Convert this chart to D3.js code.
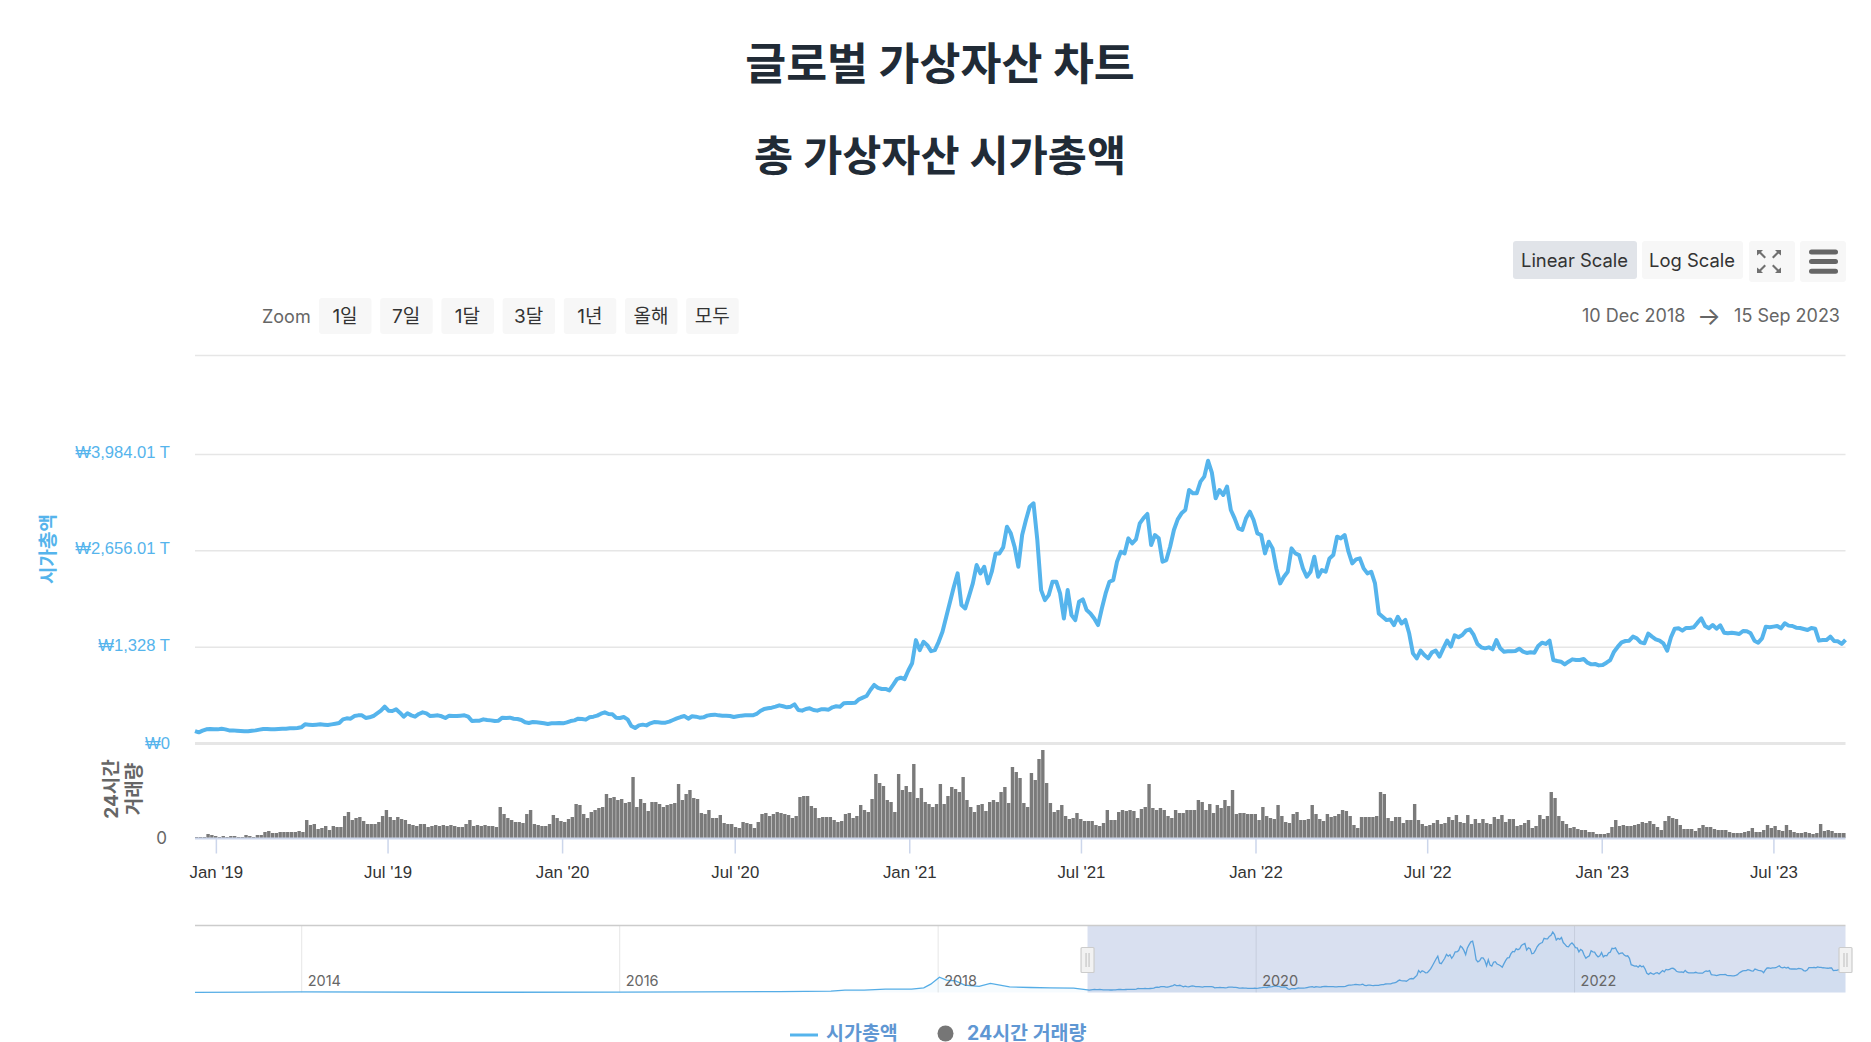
<!DOCTYPE html>
<html>
<head>
<meta charset="utf-8">
<title>글로벌 가상자산 차트</title>
<script src="https://cdn.jsdelivr.net/npm/d3@7"></script>
<style>
html, body { margin:0; padding:0; background:#fff; }
svg { display:block; font-family:Inter,"Noto Sans CJK KR",sans-serif; }
</style>
</head>
<body>
<script>
// 4 day samples starting 10 Dec 2018. market cap in trillion won
var sampleStart = new Date(2018, 11, 10), sampleEnd = new Date(2023, 8, 15), sampleDays = 4;

var capValues = [
165,147,170,188,193,188,188,197,188,174,
174,170,165,161,161,170,174,184,193,193,
188,188,193,197,197,202,202,207,216,257,
253,248,253,257,253,248,257,266,276,326,
340,335,372,381,381,345,354,372,409,446,
501,446,441,464,418,363,409,381,363,400,
423,409,372,377,381,368,345,377,372,372,
377,381,363,303,308,308,326,317,312,303,
308,349,345,349,335,331,317,285,276,289,
285,280,271,262,271,271,276,271,285,303,
312,335,331,322,354,363,377,404,423,400,
395,349,345,358,326,234,207,243,253,243,
271,289,285,280,280,294,317,340,358,372,
335,368,363,349,354,377,386,391,381,377,
377,372,358,368,377,381,381,381,400,441,
469,478,487,501,519,506,492,501,533,455,
446,469,478,455,446,464,464,460,492,506,
501,547,552,552,556,602,625,648,731,800,
760,745,745,725,800,880,900,880,1000,1100,
1418,1280,1395,1349,1266,1280,1395,1533,1740,1947,
2154,2338,1901,1855,2025,2200,2453,2338,2430,2200,
2361,2614,2614,2697,2982,2890,2706,2430,2867,3074,
3258,3304,2798,2108,1970,2039,2223,2223,2062,1717,
2108,1763,1694,1947,1979,1832,1786,1717,1625,1855,
2062,2223,2246,2499,2637,2614,2821,2752,2807,3028,
3100,3157,2729,2867,2821,2499,2522,2706,2936,3083,
3166,3212,3488,3442,3442,3603,3672,3890,3727,3373,
3488,3419,3534,3212,3097,2959,2936,3097,3189,3074,
2890,2867,2614,2775,2683,2407,2200,2292,2361,2683,
2614,2591,2407,2292,2361,2568,2292,2384,2361,2545,
2591,2844,2821,2867,2637,2476,2531,2545,2407,2338,
2361,2200,1786,1740,1694,1703,1625,1740,1648,1696,
1512,1236,1167,1273,1213,1167,1250,1273,1190,1305,
1411,1328,1484,1457,1489,1549,1567,1489,1365,1319,
1305,1319,1291,1420,1305,1259,1264,1264,1268,1300,
1259,1241,1250,1245,1337,1383,1365,1411,1144,1130,
1121,1084,1121,1153,1144,1144,1158,1107,1084,1089,
1070,1075,1107,1144,1259,1328,1388,1406,1411,1466,
1443,1388,1374,1507,1466,1429,1411,1374,1273,1457,
1576,1581,1549,1586,1586,1595,1659,1719,1613,1581,
1627,1576,1622,1521,1512,1521,1512,1503,1544,1540,
1512,1411,1383,1443,1604,1595,1604,1613,1581,1650,
1618,1613,1590,1586,1572,1558,1586,1576,1411,1420,
1420,1466,1406,1402,1365,1420];

// no scale on the volume panel in the picture, so these are relative heights
var volValues = [
1,1,1,4,3,2,1,2,1,2,
2,1,1,3,2,1,3,3,6,7,
5,5,6,6,6,6,6,7,6,18,
13,14,9,10,12,8,12,11,11,22,
26,18,20,21,17,14,14,14,16,22,
28,21,18,21,19,18,14,13,12,14,
14,11,12,13,12,13,12,13,12,11,
11,14,18,12,13,12,13,12,12,11,
31,24,20,18,16,16,15,24,28,14,
13,12,12,14,23,20,17,16,19,21,
34,33,24,20,26,28,30,31,44,40,
41,38,39,35,36,61,31,39,35,27,
36,36,34,31,33,34,35,54,38,44,
48,40,39,25,24,28,20,20,23,15,
14,14,11,10,16,15,14,10,16,24,
25,22,24,26,25,24,23,20,22,41,
42,42,32,30,20,21,21,21,18,16,
17,24,25,20,22,33,28,26,39,64,
55,52,38,36,26,64,48,52,46,74,
40,50,36,34,31,34,54,34,42,51,
49,46,61,38,31,26,33,34,27,36,
38,36,46,51,35,71,66,60,35,31,
65,58,79,88,55,35,26,28,33,22,
19,20,25,19,17,17,17,13,12,15,
28,18,18,26,28,27,28,27,20,29,
31,54,30,28,30,28,22,20,28,25,
25,28,28,28,38,36,28,34,25,33,
30,38,32,48,24,25,25,24,24,24,
18,31,22,20,19,33,22,16,15,24,
26,18,18,19,33,24,19,17,24,21,
22,24,28,27,22,13,10,21,21,21,
21,22,46,44,20,17,21,21,15,18,
18,34,18,14,12,13,15,18,14,15,
21,18,23,16,15,23,14,19,15,19,
15,14,21,19,23,16,19,19,12,13,
15,18,10,12,23,19,22,46,40,22,
17,14,10,11,9,8,8,6,6,4,
4,4,5,11,18,12,13,12,12,13,
14,16,15,17,14,11,8,17,22,20,
19,13,9,9,9,7,10,13,11,11,
9,8,8,8,6,5,5,5,6,7,
10,6,6,8,13,10,12,8,7,13,
8,6,5,5,6,5,4,5,14,7,
8,7,5,5,5,5];

// navigator goes further back than the main chart
var navEarlyDates = ["2013-05-01","2014-01-01","2015-01-01","2016-01-01","2016-07-01","2017-01-01","2017-04-30","2017-06-01","2017-07-15","2017-09-02","2017-11-01","2017-11-29","2017-12-15","2018-01-04","2018-01-20","2018-02-10","2018-03-03","2018-04-05","2018-05-01","2018-06-14","2018-08-01","2018-09-15","2018-11-08"];
var navEarlyValues = [6,40,15,20,40,60,85,150,150,214,214,300,535,980,790,750,470,400,580,360,320,300,280];

var capTicks = [0,1328,2656,3984,5350];
var capTickLabels = ["₩0","₩1,328 T","₩2,656.01 T","₩3,984.01 T",""];
var xTickDates = ["2019-01-01","2019-07-01","2020-01-01","2020-07-01","2021-01-01","2021-07-01","2022-01-01","2022-07-01","2023-01-01","2023-07-01"];
var xTickLabels = ["Jan '19","Jul '19","Jan '20","Jul '20","Jan '21","Jul '21","Jan '22","Jul '22","Jan '23","Jul '23"];
var navYears = [2014,2016,2018,2020,2022];
var zoomButtons = ["1일","7일","1달","3달","1년","올해","모두"];

var parseDay = d3.timeParse("%Y-%m-%d");
var W = 1871, H = 1042;
var plotL = 195, plotR = 1845.5;
var blue = "#55b4ec", grey = "#666666";

var svg = d3.select("body").append("svg").attr("width", W).attr("height", H);

function txt(x, y, s, size, fill, anchor, weight) {
	return svg.append("text").attr("x", x).attr("y", y).attr("dy", "0.36em")
		.attr("text-anchor", anchor || "start")
		.attr("font-size", size).attr("fill", fill)
		.attr("font-weight", weight || 400)
		.text(s);
}

// titles
txt(940, 64, "글로벌 가상자산 차트", 44.5, "#212b36", "middle", 700);
txt(940, 156, "총 가상자산 시가총액", 42.5, "#212b36", "middle", 700);

// top right buttons
function btn(x, y, w, h, fill) {
	return svg.append("rect").attr("x", x).attr("y", y).attr("width", w).attr("height", h)
		.attr("rx", 3).attr("fill", fill);
}
btn(1513, 241, 124, 38, "#e1e4e9");
btn(1642, 241, 101, 38, "#f7f7f7");
btn(1749, 241, 46, 41, "#f7f7f7");
btn(1800, 241, 46, 41, "#f7f7f7");
txt(1574.5, 260, "Linear Scale", 18.4, "#333", "middle");
txt(1692, 260, "Log Scale", 18.4, "#333", "middle");

// fullscreen icon
svg.append("path")
	.attr("d", "M1757 250h6l-2 2 5 5-1.5 1.5-5-5-2.500 2zM1781 250h-6l2 2-5 5 1.500 1.500 5-5 2.500 2zM1757 273h6l-2-2 5-5-1.500-1.500-5 5-2.500-2zM1781 273h-6l2-2-5-5 1.500-1.500 5 5 2.500-2z")
	.attr("fill", "#707070");
// menu icon
d3.range(3).forEach(function(i) {
	svg.append("rect").attr("x", 1809).attr("y", 249.5 + i * 9.6).attr("width", 29).attr("height", 5)
		.attr("rx", 2.5).attr("fill", grey);
});

// range selector
txt(262, 316.5, "Zoom", 18, grey);
zoomButtons.forEach(function(b, i) {
	btn(319 + i * 61.2, 298, 52.5, 36, "#f7f7f7");
	txt(345 + i * 61.2, 316, b, 19, "#333", "middle");
});
txt(1582, 316, "10 Dec 2018", 18, grey);
txt(1709, 316, "→", 25, grey, "middle");
txt(1840, 316, "15 Sep 2023", 18, grey, "end");

// scales
var x = d3.scaleTime().domain([sampleStart, sampleEnd]).range([plotL, plotR]);
var yCap = d3.scaleLinear().domain([0, 3984]).range([743, 454]);
var yVol = d3.scaleLinear().domain([0, 88]).range([838, 750]);

function sampleDate(i) { return d3.timeDay.offset(sampleStart, i * sampleDays); }
var capData = capValues.map(function(v, i) { return { date: sampleDate(i), value: v }; });
var volData = volValues.map(function(v, i) { return { date: sampleDate(i), value: v }; });

// price axis, gridlines come from the tick size
var capAxis = d3.axisLeft(yCap)
	.tickValues(capTicks)
	.tickSize(-(plotR - plotL))
	.tickPadding(25)
	.tickFormat(function(d, i) { return capTickLabels[i]; });
var gCap = svg.append("g").attr("transform", "translate(" + plotL + ",0)").call(capAxis);
gCap.select(".domain").remove();
gCap.selectAll(".tick line").attr("stroke", "#e6e6e6").attr("stroke-width", function(d) { return d === 0 ? 3 : 1.5; });
gCap.selectAll(".tick text").attr("fill", blue).attr("font-size", 16.6).attr("font-family", null)
	.attr("dy", function(d) { return d === 0 ? "0.32em" : "0.22em"; });

txt(0, 0, "시가총액", 19, blue, "middle", 700)
	.attr("transform", "translate(48,549) rotate(-90)");

// volume
var barW = (x(sampleDate(1)) - x(sampleDate(0))) - 0.4;
svg.append("g").selectAll("rect").data(volData).enter().append("rect")
	.attr("x", function(d) { return Math.min(x(d.date), plotR - barW); })
	.attr("y", function(d) { return yVol(d.value); })
	.attr("width", barW)
	.attr("height", function(d) { return 838 - yVol(d.value); })
	.attr("fill", "#7a7a7a");

txt(167, 838, "0", 17, grey, "end");
txt(0, 0, "24시간", 19, grey, "middle", 700).attr("transform", "translate(111,789) rotate(-90)");
txt(0, 0, "거래량", 19, grey, "middle", 700).attr("transform", "translate(134,789) rotate(-90)");

// cap line
var capLine = d3.line()
	.x(function(d) { return x(d.date); })
	.y(function(d) { return yCap(d.value); });
svg.append("path").datum(capData)
	.attr("fill", "none").attr("stroke", blue).attr("stroke-width", 4)
	.attr("stroke-linejoin", "round")
	.attr("d", capLine);

// date axis
var tickDates = xTickDates.map(parseDay);
var xAxis = d3.axisBottom(x)
	.tickValues(tickDates)
	.tickSize(15)
	.tickPadding(13)
	.tickFormat(function(d, i) { return xTickLabels[i]; });
var gX = svg.append("g").attr("transform", "translate(0,838.5)").call(xAxis);
gX.select(".domain").attr("stroke", "#ccd6eb").attr("stroke-width", 2).attr("d", "M" + plotL + ",0H" + plotR);
gX.selectAll(".tick line").attr("stroke", "#ccd6eb").attr("stroke-width", 1.5);
gX.selectAll(".tick text").attr("fill", "#333").attr("font-size", 16.8).attr("font-family", null);

// navigator
var navTop = 926, navBottom = 992.5;
var xNav = d3.scaleTime().domain([parseDay(navEarlyDates[0]), sampleEnd]).range([plotL, plotR]);
var yNav = d3.scaleLinear().domain([0, 3890]).range([navBottom, 932]);
var navData = navEarlyDates.map(function(d, i) { return { date: parseDay(d), value: navEarlyValues[i] }; }).concat(capData);

svg.selectAll(".navgrid").data(navYears).enter().append("line")
	.attr("class", "navgrid")
	.attr("x1", function(y) { return xNav(new Date(y, 0, 1)); })
	.attr("x2", function(y) { return xNav(new Date(y, 0, 1)); })
	.attr("y1", navTop).attr("y2", navBottom)
	.attr("stroke", "#e6e6e6");

var navArea = d3.area()
	.x(function(d) { return xNav(d.date); })
	.y0(navBottom)
	.y1(function(d) { return yNav(d.value); });
svg.append("path").datum(navData).attr("d", navArea).attr("fill", blue).attr("fill-opacity", 0.05);
svg.append("path").datum(navData)
	.attr("d", d3.line().x(function(d) { return xNav(d.date); }).y(function(d) { return yNav(d.value); }))
	.attr("fill", "none").attr("stroke", "#55ade6").attr("stroke-width", 1.3);

// selected window
svg.append("rect")
	.attr("x", xNav(sampleStart)).attr("y", navTop)
	.attr("width", xNav(sampleEnd) - xNav(sampleStart)).attr("height", navBottom - navTop)
	.attr("fill", "#6685c2").attr("fill-opacity", 0.25);

navYears.forEach(function(y) {
	txt(xNav(new Date(y, 0, 1)) + 6, 981, y, 14.5, grey);
});

svg.append("line").attr("x1", plotL).attr("x2", plotR).attr("y1", 925.5).attr("y2", 925.5)
	.attr("stroke", "#cccccc").attr("stroke-width", 1.5);

[xNav(sampleStart), xNav(sampleEnd)].forEach(function(hx) {
	svg.append("rect").attr("x", hx - 6.5).attr("y", 947.5).attr("width", 13).attr("height", 25)
		.attr("rx", 1).attr("fill", "#f2f2f2").attr("stroke", "#cccccc").attr("stroke-width", 1.2);
	[-1.5, 1.5].forEach(function(o) {
		svg.append("line").attr("x1", hx + o).attr("x2", hx + o).attr("y1", 953).attr("y2", 967)
			.attr("stroke", "#bdbdbd");
	});
});

// legend
svg.append("line").attr("x1", 790).attr("x2", 818).attr("y1", 1035).attr("y2", 1035)
	.attr("stroke", blue).attr("stroke-width", 3);
txt(826, 1033, "시가총액", 19.5, "#5f97d3", "start", 700);
svg.append("circle").attr("cx", 945.5).attr("cy", 1033.5).attr("r", 8).attr("fill", "#767676");
txt(967, 1033, "24시간 거래량", 19.5, "#5f97d3", "start", 700);
</script>
</body>
</html>
